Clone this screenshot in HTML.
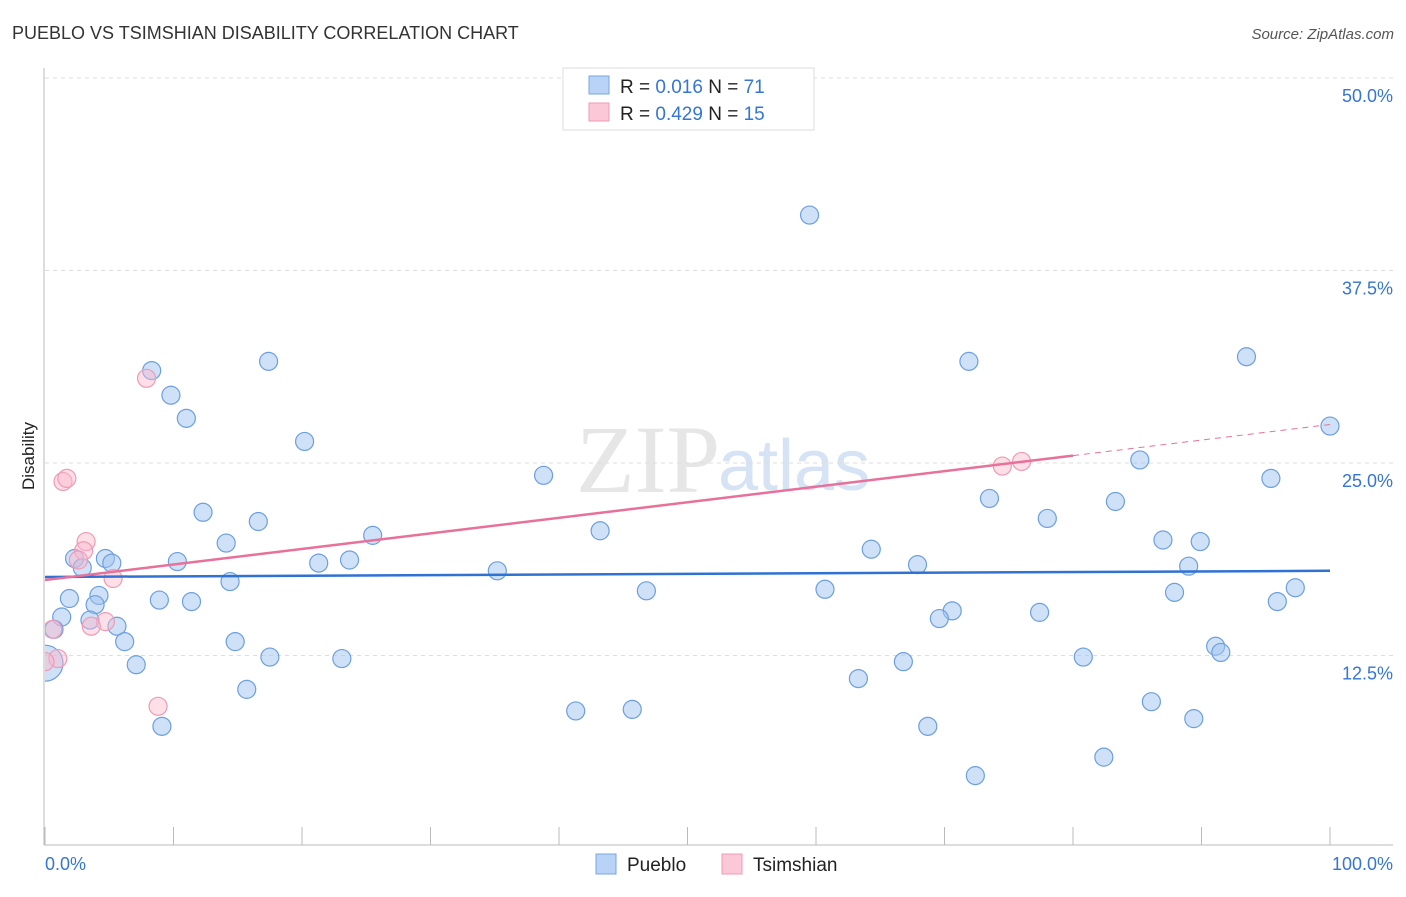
<!DOCTYPE html>
<html><head><meta charset="utf-8"><style>
body{margin:0;background:#fff;font-family:"Liberation Sans",sans-serif}
</style></head><body>
<svg width="1406" height="892" xmlns="http://www.w3.org/2000/svg" id="chart">
<text x="12" y="39" font-size="18" fill="#333">PUEBLO VS TSIMSHIAN DISABILITY CORRELATION CHART</text>
<text x="1394" y="39" font-size="15" fill="#555" font-style="italic" text-anchor="end">Source: ZipAtlas.com</text>
<text x="720" y="492" font-size="96" fill="#e6e6e6" text-anchor="end" font-family="Liberation Serif,serif">ZIP</text>
<text x="718" y="490" font-size="72" fill="#d5e3f5">atlas</text>
<text transform="translate(34,456) rotate(-90)" font-size="17" fill="#222" text-anchor="middle">Disability</text>
<g id="grid"></g><g id="axes"></g>
<defs><clipPath id="clip"><rect x="45" y="60" width="1360" height="785"/></clipPath></defs>
<g id="marks" clip-path="url(#clip)"></g>
<g>
<rect x="563" y="68" width="251" height="62" fill="#fff" stroke="#ddd"/>
<rect x="589" y="76" width="20" height="18" fill="#b8d3f5" stroke="#7aa7e0"/>
<rect x="589" y="103" width="20" height="18" fill="#fbc8d8" stroke="#f09ab5"/>
<text x="620" y="93" font-size="19" fill="#222">R = <tspan fill="#3575d3">0.016</tspan>   N = <tspan fill="#3575d3">71</tspan></text>
<text x="620" y="120" font-size="19" fill="#222">R = <tspan fill="#3575d3">0.429</tspan>   N = <tspan fill="#3575d3">15</tspan></text>
</g>
<g>
<rect x="596" y="854" width="20" height="20" fill="#b8d3f5" stroke="#7aa7e0"/>
<text x="627" y="871" font-size="19" fill="#222">Pueblo</text>
<rect x="722" y="854" width="20" height="20" fill="#fbc8d8" stroke="#f09ab5"/>
<text x="753" y="871" font-size="19" fill="#222">Tsimshian</text>
</g>
<text x="45" y="870" font-size="18" fill="#3575d3">0.0%</text>
<text x="1393" y="870" font-size="18" fill="#3575d3" text-anchor="end">100.0%</text>
</svg>
<script>
const yTicks=[50,37.5,25,12.5];
const yTickLabels=["50.0%","37.5%","25.0%","12.5%"];
const xTicks=[0,10,20,30,40,50,60,70,80,90,100];
const puebloX=[8.3,9.8,11.0,17.4,20.2,59.5,71.9,93.5,100,38.8,43.2,85.2,95.4,73.5,83.3,78.0,12.3,16.6,25.5,14.1,2.3,4.7,2.9,5.2,10.3,21.3,23.7,35.2,64.3,67.9,87.0,89.9,89.0,14.4,46.8,60.7,87.9,97.3,1.9,4.2,8.9,11.4,3.9,1.3,3.5,5.6,70.6,69.6,77.4,95.9,0.7,6.2,14.8,91.1,91.5,17.5,23.1,80.8,7.1,66.8,0,63.3,15.7,41.3,45.7,86.1,89.4,9.1,68.7,82.4,72.4];
const puebloY=[31.0,29.4,27.9,31.6,26.4,41.1,31.6,31.9,27.4,24.2,20.6,25.2,24.0,22.7,22.5,21.4,21.8,21.2,20.3,19.8,18.8,18.8,18.2,18.5,18.6,18.5,18.7,18.0,19.4,18.4,20.0,19.9,18.3,17.3,16.7,16.8,16.6,16.9,16.2,16.4,16.1,16.0,15.8,15.0,14.8,14.4,15.4,14.9,15.3,16.0,14.2,13.4,13.4,13.1,12.7,12.4,12.3,12.4,11.9,12.1,12.0,11.0,10.3,8.9,9.0,9.5,8.4,7.9,7.9,5.9,4.7];
const tsimX=[7.9,1.4,1.7,3.2,3.0,2.6,5.3,4.7,3.6,0.6,1.0,0,8.8,74.5,76.0];
const tsimY=[30.5,23.8,24.0,19.9,19.3,18.7,17.5,14.7,14.4,14.2,12.3,12.1,9.2,24.8,25.1];
const puebloTrend=[17.6,18.0];
const tsimTrend=[17.4,27.5];
const tsimSolidEnd=80;
const NS="http://www.w3.org/2000/svg";
const X=v=>45+v*12.85, Y=v=>848-v*15.4;
function mk(t,a,p){const e=document.createElementNS(NS,t);for(const k in a)e.setAttribute(k,a[k]);document.getElementById(p).appendChild(e);return e;}
yTicks.forEach((t,i)=>{
 const g=mk('line',{x1:45,x2:1393,y1:Y(t),y2:Y(t),stroke:'#ddd','stroke-dasharray':'4,4'},'grid');
 
 
 const l=mk('text',{x:1393,y:Y(t)+24,'font-size':18,fill:'#3575d3','text-anchor':'end'},'grid');
 l.textContent=yTickLabels[i];
 
 
});
mk('line',{x1:44,x2:44,y1:68,y2:845,stroke:'#bbb'},'axes');
mk('line',{x1:44,x2:1393,y1:845,y2:845,stroke:'#bbb'},'axes');
xTicks.forEach(t=>{const e=mk('line',{x1:X(t),x2:X(t),y1:827,y2:845,stroke:'#bbb'},'axes');
 
 });
puebloX.forEach((x,i)=>{const c=mk('circle',{cx:X(x),cy:Y(puebloY[i]),r:(x===0?18:9),fill:'rgba(160,196,240,0.5)',stroke:'#6c9fe0','stroke-width':1.2},'marks');
 
 });
tsimX.forEach((x,i)=>{const c=mk('circle',{cx:X(x),cy:Y(tsimY[i]),r:9,fill:'rgba(250,185,205,0.45)',stroke:'#f09ab5','stroke-width':1.2},'marks');
 
 });
const pl=mk('line',{x1:X(0),y1:Y(puebloTrend[0]),x2:X(100),y2:Y(puebloTrend[1]),stroke:'#2f72d4','stroke-width':2.5},'marks');


const ym=tsimTrend[0]+(tsimTrend[1]-tsimTrend[0])*tsimSolidEnd/100;
const tl=mk('line',{x1:X(0),y1:Y(tsimTrend[0]),x2:X(tsimSolidEnd),y2:Y(ym),stroke:'#e8709a','stroke-width':2.5},'marks');


const td=mk('line',{x1:X(tsimSolidEnd),y1:Y(ym),x2:X(100),y2:Y(tsimTrend[1]),stroke:'#e8709a','stroke-width':1,'stroke-dasharray':'6,5'},'marks');


</script>
</body></html>
